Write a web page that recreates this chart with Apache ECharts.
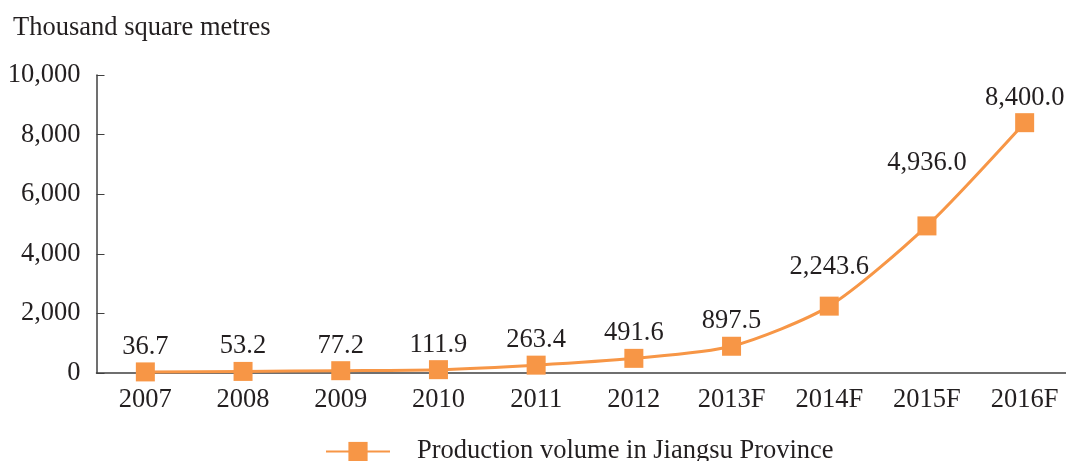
<!DOCTYPE html>
<html>
<head>
<meta charset="utf-8">
<script src="https://cdn.jsdelivr.net/npm/echarts@6/dist/echarts.min.js"></script>
<style>
  html, body { margin: 0; padding: 0; background: #ffffff; }
  #chart { width: 1066px; height: 461px; }
</style>
</head>
<body>
<div id="chart"></div>
<script>
// Production volume, thousand square metres
const years = ['2007', '2008', '2009', '2010', '2011', '2012', '2013F', '2014F', '2015F', '2016F'];
const volume = [36.7, 53.2, 77.2, 111.9, 263.4, 491.6, 897.5, 2243.6, 4936.0, 8400.0];
const yTicks = [0, 2000, 4000, 6000, 8000, 10000];
const seriesName = 'Production volume in Jiangsu Province';
const unitLabel = 'Thousand square metres';

const serif = '"Liberation Serif", "DejaVu Serif", serif';
const ink = '#231f20';
const orange = '#F79646';
const fontSize = 26.5;

// Extra lift for a couple of crowded labels on the steep part of the curve
const extraLift = { '2014F': 14, '2015F': 38 };

const fmt = v => v.toLocaleString('en-US', { minimumFractionDigits: 1, maximumFractionDigits: 1 });

const points = volume.map((v, i) => {
  const item = { value: v };
  if (extraLift[years[i]]) item.label = { offset: [0, -extraLift[years[i]]] };
  return item;
});

const chart = echarts.init(document.getElementById('chart'), null, { renderer: 'canvas' });
chart.setOption({
  animation: false,
  backgroundColor: '#ffffff',
  title: {
    text: unitLabel,
    left: 8, top: 10,
    textStyle: { fontFamily: serif, fontSize: fontSize, fontWeight: 'normal', color: ink }
  },
  // the plot runs a little past the right edge of the page
  grid: { left: 96.5, width: 977, top: 75, bottom: 88, containLabel: false, outerBoundsMode: 'none' },
  legend: {
    bottom: -9, left: 320,
    itemWidth: 64, itemHeight: 24, itemGap: 10,
    data: [seriesName],
    textStyle: { fontFamily: serif, fontSize: fontSize, color: ink, padding: [0, 0, 0, 22] }
  },
  xAxis: {
    type: 'category',
    data: years,
    boundaryGap: true,
    axisLine: { lineStyle: { color: '#404040', width: 1.5 } },
    axisTick: { inside: true, length: 8, lineStyle: { color: '#404040' } },
    axisLabel: { fontFamily: serif, fontSize: fontSize, color: ink, margin: 14 }
  },
  yAxis: {
    type: 'value',
    min: yTicks[0], max: yTicks[yTicks.length - 1], interval: yTicks[1] - yTicks[0],
    splitLine: { show: false },
    axisLine: { show: true, lineStyle: { color: '#404040', width: 1.5 } },
    axisTick: { show: true, inside: true, length: 8, lineStyle: { color: '#404040' } },
    axisLabel: {
      fontFamily: serif, fontSize: fontSize, color: ink, margin: 16,
      formatter: v => v.toLocaleString('en-US')
    }
  },
  series: [{
    name: seriesName,
    type: 'line',
    data: points,
    smooth: 0.25,
    symbol: 'rect',
    symbolSize: 19,
    lineStyle: { color: orange, width: 3 },
    itemStyle: { color: orange },
    label: {
      show: true, position: 'top', distance: 2,
      fontFamily: serif, fontSize: fontSize, color: ink,
      formatter: p => fmt(p.value)
    }
  }]
});
</script>
</body>
</html>
